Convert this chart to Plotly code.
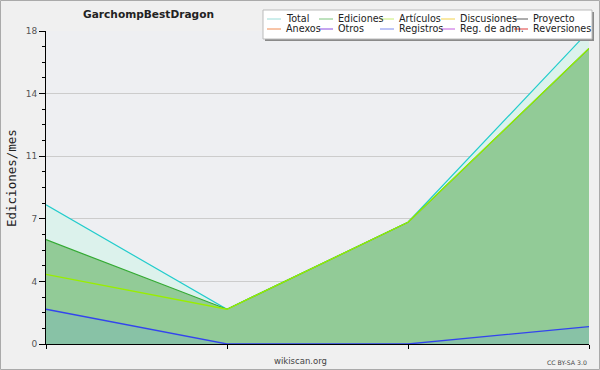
import plotly.graph_objects as go

# ---- data ----
months = [0, 1, 2, 3]
total = [8, 2, 7, 18]
ediciones = [6, 2, 7, 17]
articulos = [4, 2, 7, 17]
registros = [2, 0, 0, 1]

y_tick_vals = [0, 3.6, 7.2, 10.8, 14.4, 18]
y_tick_text = ["0", "4", "7", "11", "14", "18"]

legend_names = ["Total", "Ediciones", "Artículos", "Discusiones", "Proyecto",
                "Anexos", "Otros", "Registros", "Reg. de adm.", "Reversiones"]
legend_colors = ["#9ADCD8", "#7CC47C", "#C8EE70", "#F2D24A", "#5A5A5A",
                 "#F08A50", "#8A4AE0", "#7C8AEE", "#C45AE0", "#E03A3A"]

title = "GarchompBestDragon"
y_title = "Ediciones/mes"

# ---- geometry (pixels) ----
W, H = 600, 370
L, R, T, B = 46, 589, 31, 344

def px(x):
    return (x - L) / (R - L)

def py(y):
    return (B - y) / (B - T)

FONT = "DejaVu Sans, sans-serif"

fig = go.Figure()
fig.add_trace(go.Scatter(x=months, y=total, mode="lines", fill="tozeroy",
                         line=dict(color="#22CCCC", width=1.2),
                         fillcolor="#DCF2EC", showlegend=False))
fig.add_trace(go.Scatter(x=months, y=ediciones, mode="lines", fill="tozeroy",
                         line=dict(color="#33AA33", width=1.2),
                         fillcolor="#92CB97", showlegend=False))
fig.add_trace(go.Scatter(x=months, y=articulos, mode="lines",
                         line=dict(color="#99EE00", width=1.3),
                         showlegend=False))
fig.add_trace(go.Scatter(x=months, y=registros, mode="lines", fill="tozeroy",
                         line=dict(color="#3344EE", width=1.3),
                         fillcolor="#88C2A6", showlegend=False))

shapes = []
annotations = []

# outer border
shapes.append(dict(type="rect", xref="paper", yref="paper",
                   x0=px(0.5), x1=px(W - 0.5), y0=py(H - 0.5), y1=py(0.5),
                   line=dict(color="#AAAAAA", width=1), layer="below"))

# legend box with shadow
lx0, lx1, ly0, ly1 = 263, 592, 10, 39
shapes.append(dict(type="rect", xref="paper", yref="paper",
                   x0=px(lx0 + 2), x1=px(lx1 + 2), y0=py(ly1 + 2), y1=py(ly0 + 2),
                   fillcolor="#8A8A8A", line=dict(width=0), layer="above"))
shapes.append(dict(type="rect", xref="paper", yref="paper",
                   x0=px(lx0), x1=px(lx1), y0=py(ly1), y1=py(ly0),
                   fillcolor="#FFFFFF", line=dict(color="#BBBBBB", width=1),
                   layer="above"))
col_x = [267, 319, 380, 441, 514]
row_y = [19, 29]
for i, (name, col) in enumerate(zip(legend_names, legend_colors)):
    cx = col_x[i % 5]
    ry = row_y[i // 5]
    shapes.append(dict(type="line", xref="paper", yref="paper",
                       x0=px(cx), x1=px(cx + 14), y0=py(ry), y1=py(ry),
                       line=dict(color=col, width=1), layer="above"))
    annotations.append(dict(text=name, xref="paper", yref="paper",
                            x=px(cx + 17), y=py(ry), xanchor="left", yanchor="middle",
                            showarrow=False,
                            font=dict(family=FONT, size=9.6, color="#222222")))

# title
annotations.append(dict(text="<b>" + title + "</b>", xref="paper", yref="paper",
                        x=px(148), y=py(14), xanchor="center", yanchor="middle",
                        showarrow=False,
                        font=dict(family=FONT, size=10.6, color="#222222")))
# y title
annotations.append(dict(text=y_title, xref="paper", yref="paper",
                        x=px(11), y=py(178), xanchor="center", yanchor="middle",
                        textangle=-90, showarrow=False,
                        font=dict(family="DejaVu Sans Mono, monospace", size=12.5,
                                  color="#222222")))
# footer
annotations.append(dict(text="wikiscan.org", xref="paper", yref="paper",
                        x=px(300), y=py(361), xanchor="center", yanchor="middle",
                        showarrow=False,
                        font=dict(family=FONT, size=8.5, color="#444444")))
annotations.append(dict(text="CC BY-SA 3.0", xref="paper", yref="paper",
                        x=px(589), y=py(362), xanchor="right", yanchor="middle",
                        showarrow=False,
                        font=dict(family=FONT, size=6.2, color="#444444")))

fig.update_layout(
    width=W, height=H,
    margin=dict(l=L, r=W - R, t=T, b=H - B, pad=0),
    paper_bgcolor="#F0F0F0",
    plot_bgcolor="#EEEFF2",
    showlegend=False,
    shapes=shapes,
    annotations=annotations,
    xaxis=dict(range=[months[0], months[-1]], tickmode="array", tickvals=months,
               ticktext=["" for _ in months], ticks="outside", ticklen=4,
               tickcolor="#000000", showgrid=False, zeroline=False,
               showline=True, linecolor="#000000", linewidth=1),
    yaxis=dict(range=[0, 18], tickmode="array", tickvals=y_tick_vals,
               ticktext=y_tick_text, ticks="outside", ticklen=6,
               tickcolor="#000000", showgrid=True, gridcolor="#CCCCCC",
               gridwidth=1, zeroline=False, showline=True,
               linecolor="#000000", linewidth=1,
               tickfont=dict(family=FONT, size=9, color="#555555"),
               minor=dict(tickmode="linear", tick0=0, dtick=0.9,
                          ticks="outside", ticklen=3, tickcolor="#000000",
                          showgrid=False)),
)

fig.write_html("out.html", config={"displayModeBar": False},
               post_script="document.body.style.margin='0px';")
